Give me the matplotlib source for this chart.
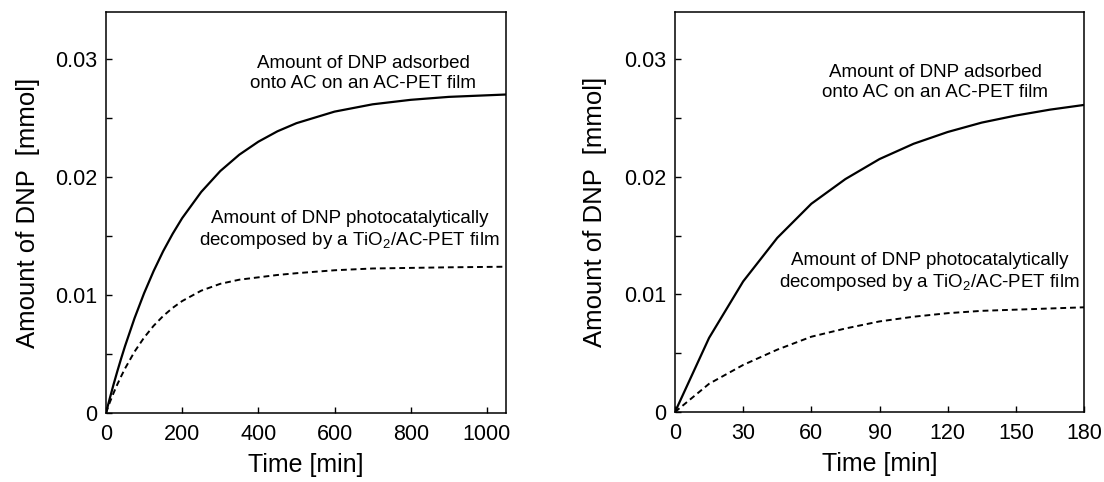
import matplotlib
matplotlib.use("Agg")
import matplotlib.pyplot as plt
from matplotlib.ticker import MultipleLocator, FuncFormatter

plt.rcParams['font.family'] = ['Liberation Sans', 'DejaVu Sans']
plt.rcParams['mathtext.fontset'] = 'custom'
plt.rcParams['mathtext.rm'] = 'Liberation Sans'

# left panel: long run (min)
t_long = [0, 10, 20, 30, 40, 50, 75, 100, 125, 150, 175, 200, 250, 300, 350,
          400, 450, 500, 600, 700, 800, 900, 1050]
ads_long = [0, 0.00124, 0.00243, 0.00356, 0.00464, 0.00567, 0.00804, 0.01015,
            0.01203, 0.01371, 0.01519, 0.01652, 0.01874, 0.02051, 0.0219,
            0.0230, 0.02388, 0.02457, 0.02555, 0.02617, 0.02655, 0.0268, 0.0270]
dec_long = [0, 0.00090, 0.00170, 0.00244, 0.00312, 0.00377, 0.0052, 0.00639,
            0.00739, 0.00822, 0.00891, 0.00949, 0.01037, 0.01095, 0.01130,
            0.0115, 0.0117, 0.01185, 0.0121, 0.01225, 0.0123, 0.01235, 0.0124]

# right panel: first 3 hours (min)
t_short = [0, 15, 30, 45, 60, 75, 90, 105, 120, 135, 150, 165, 180]
ads_short = [0, 0.0063, 0.0111, 0.0148, 0.0177, 0.0198, 0.0215, 0.0228,
             0.0238, 0.0246, 0.0252, 0.0257, 0.0261]
dec_short = [0, 0.0024, 0.0040, 0.0053, 0.0064, 0.0071, 0.0077, 0.0081,
             0.0084, 0.0086, 0.0087, 0.0088, 0.0089]

lbl_ads = "Amount of DNP adsorbed\nonto AC on an AC-PET film"
lbl_dec = "Amount of DNP photocatalytically\ndecomposed by a TiO$_\\mathregular{2}$/AC-PET film"

fig = plt.figure(figsize=(11.04, 4.82), dpi=100)
ax1 = fig.add_axes([0.0960, 0.1432, 0.3623, 0.8320])
ax2 = fig.add_axes([0.6114, 0.1452, 0.3705, 0.8299])


def y_fmt(v, pos):
    if abs(v) < 1e-9:
        return "0"
    return f"{v:.2f}"


def style(ax, xmax, xstep):
    ax.set_xlim(0, xmax)
    ax.set_ylim(0, 0.034)
    ax.xaxis.set_major_locator(MultipleLocator(xstep))
    ax.yaxis.set_major_locator(MultipleLocator(0.01))
    ax.yaxis.set_minor_locator(MultipleLocator(0.005))
    ax.yaxis.set_major_formatter(FuncFormatter(y_fmt))
    ax.tick_params(which='both', direction='in', length=4, width=1,
                   labelsize=15.5, pad=6)
    ax.tick_params(axis='x', pad=8)
    for s in ax.spines.values():
        s.set_linewidth(1.1)
    ax.set_xlabel("Time [min]", fontsize=18, labelpad=6)
    ax.set_ylabel("Amount of DNP  [mmol]", fontsize=18.5)
    ax.yaxis.set_label_coords(-0.165, 0.5)


ax1.plot(t_long, ads_long, color='black', lw=1.6)
ax1.plot(t_long, dec_long, color='black', lw=1.4, dashes=(3, 2))
style(ax1, 1050, 200)
ax1.text(675, 0.0288, lbl_ads, ha='center', va='center', fontsize=13.5)
ax1.text(639, 0.01545, lbl_dec, ha='center', va='center', fontsize=13.5)

ax2.plot(t_short, ads_short, color='black', lw=1.6)
ax2.plot(t_short, dec_short, color='black', lw=1.4, dashes=(3, 2))
style(ax2, 180, 30)
ax2.text(114.6, 0.0280, lbl_ads, ha='center', va='center', fontsize=13.5)
ax2.text(111.9, 0.0119, lbl_dec, ha='center', va='center', fontsize=13.5)

fig.savefig("out.png", dpi=100)
